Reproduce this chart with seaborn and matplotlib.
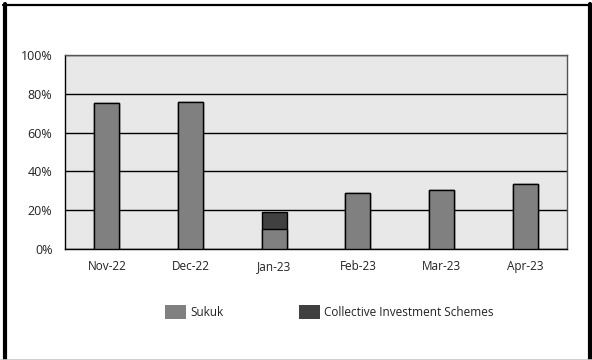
import matplotlib
matplotlib.use("Agg")
import matplotlib.pyplot as plt
from matplotlib.patches import Patch
from matplotlib.lines import Line2D
import seaborn as sns
import pandas as pd
import numpy as np

months = ["Nov-22", "Dec-22", "Jan-23", "Feb-23", "Mar-23", "Apr-23"]
sukuk = [75.1, 75.6, 10.2, 29.0, 30.4, 33.5]
cis = [0.0, 0.0, 8.7, 0.0, 0.0, 0.0]
y_ticks = [0, 20, 40, 60, 80, 100]

SUKUK_COLOR = "#808080"
CIS_COLOR = "#404040"

df = pd.DataFrame({"month": months, "Sukuk": sukuk, "CIS": cis})
df["total"] = df["Sukuk"] + df["CIS"]

sns.set_style("white")
plt.rcParams["font.family"] = ["Open Sans", "DejaVu Sans"]

fig = plt.figure(figsize=(5.92, 3.60), dpi=100)
ax = fig.add_axes([65 / 592, 1 - 249 / 360, 502 / 592, 194 / 360])
ax.set_facecolor("#E8E8E8")

# stacked bars: full height in the dark colour, Sukuk on top of it
sns.barplot(data=df, x="month", y="total", color=CIS_COLOR, width=0.3,
            edgecolor="black", linewidth=1, saturation=1, ax=ax, zorder=3)
sns.barplot(data=df, x="month", y="Sukuk", color=SUKUK_COLOR, width=0.3,
            edgecolor="black", linewidth=1, saturation=1, ax=ax, zorder=4)

ax.set_ylim(0, 100)
ax.set_xlim(-0.5, len(months) - 0.5)
ax.set_yticks(y_ticks)
ax.set_yticklabels([f"{v}%" for v in y_ticks])
ax.yaxis.grid(True, color="black", linewidth=1)
ax.set_axisbelow(True)
ax.set_xlabel("")
ax.set_ylabel("")

ax.set_xticks(range(len(months)))
ax.set_xticklabels(months)
ax.set_xticks(np.arange(-0.5, len(months)), minor=True)
ax.tick_params(axis="x", which="major", length=0, pad=8, labelsize=8.5, colors="#222222")
ax.tick_params(axis="x", which="minor", length=5, width=1, color="black", direction="out")
ax.tick_params(axis="y", length=6, width=1, color="black", direction="out", labelsize=9, pad=3,
               labelcolor="#222222")

for side in ["left", "bottom"]:
    ax.spines[side].set_color("black")
    ax.spines[side].set_linewidth(1)
for side in ["top", "right"]:
    ax.spines[side].set_color("#555555")
    ax.spines[side].set_linewidth(1)

handles = [Patch(facecolor=SUKUK_COLOR, edgecolor="none", label="Sukuk"),
           Patch(facecolor=CIS_COLOR, edgecolor="none", label="Collective Investment Schemes")]
fig.legend(handles=handles, loc="center left", bbox_to_anchor=(154 / 592, 1 - 312 / 360),
           ncol=2, frameon=False, fontsize=8.5, handlelength=1.8, handleheight=1.55,
           handletextpad=0.35, columnspacing=6.4, labelcolor="#222222")

# outer frame
fig.add_artist(Line2D([4.5 / 592, 4.5 / 592], [0, 1 - 4 / 360], color="black", linewidth=3,
                      transform=fig.transFigure))
fig.add_artist(Line2D([589.5 / 592, 589.5 / 592], [0, 1 - 4 / 360], color="black", linewidth=3,
                      transform=fig.transFigure))
fig.add_artist(Line2D([3 / 592, 591 / 592], [1 - 4.5 / 360, 1 - 4.5 / 360], color="black",
                      linewidth=1.6, transform=fig.transFigure))
fig.add_artist(Line2D([0, 1], [0.5 / 360, 0.5 / 360], color="#C8C8C8", linewidth=1.2,
                      transform=fig.transFigure))

fig.savefig("out.png", dpi=100)
